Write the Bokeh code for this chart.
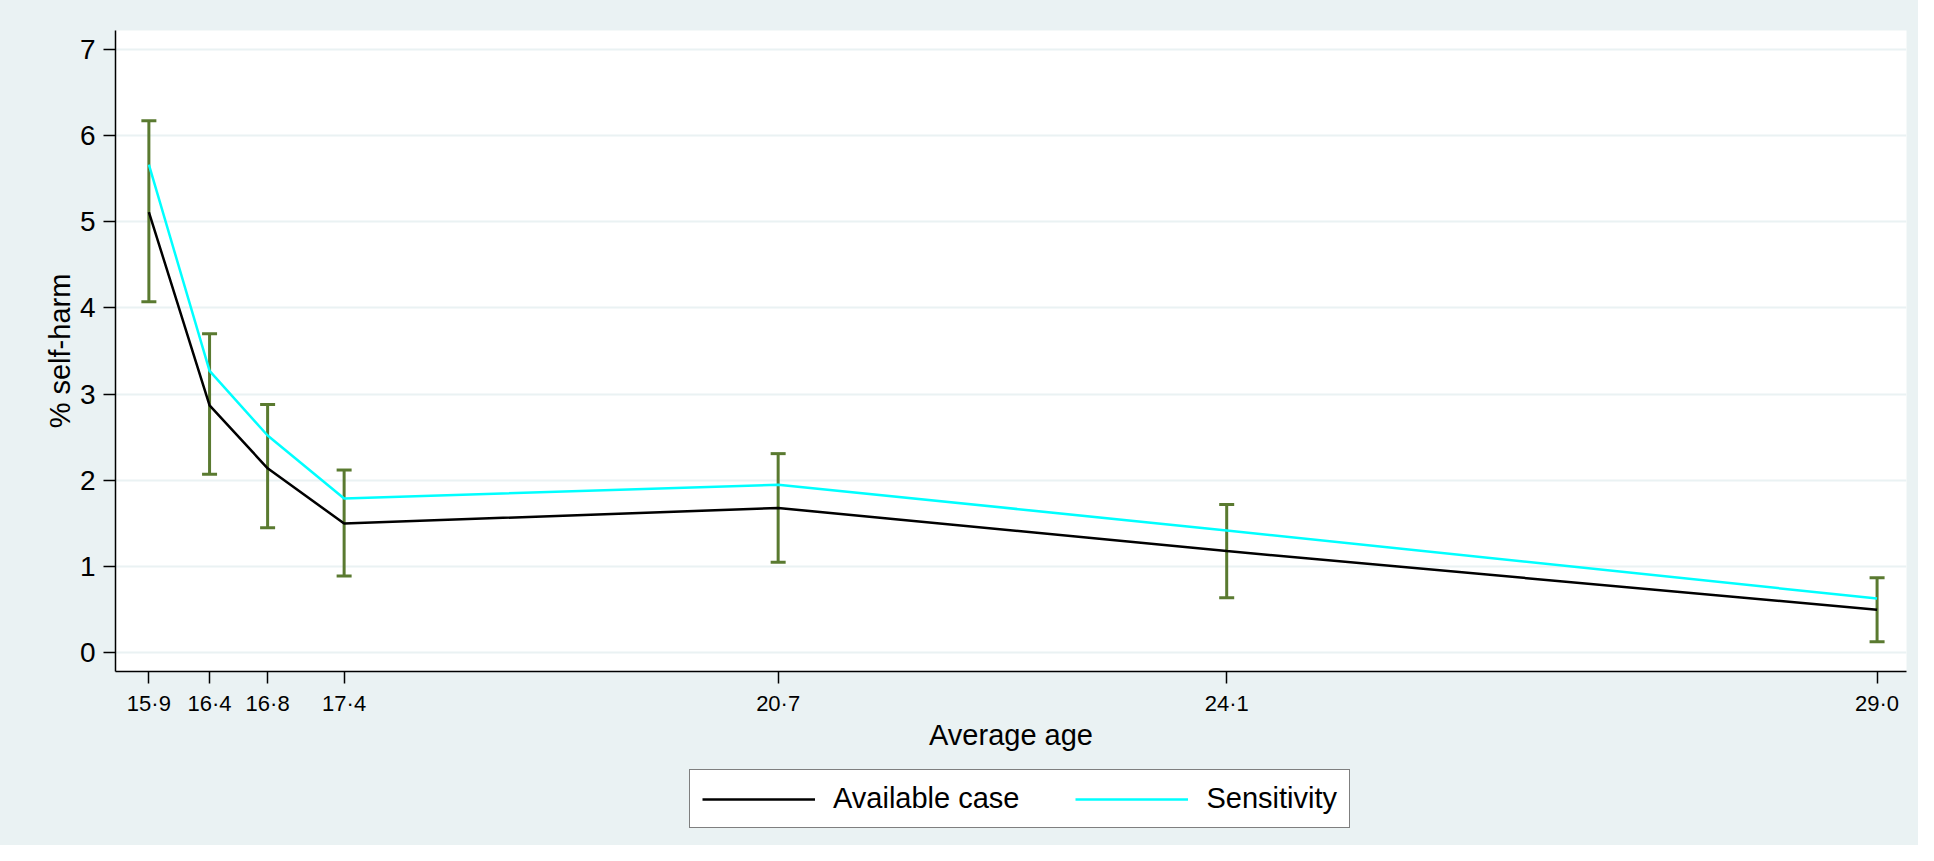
from bokeh.plotting import figure
from bokeh.layouts import column
from bokeh.models import (ColumnDataSource, Range1d, FixedTicker, Whisker, TeeHead,
                          Legend, LegendItem)
from bokeh.embed import file_html
from bokeh.resources import INLINE

# ---- data ----
age = [15.9, 16.36, 16.8, 17.38, 20.67, 24.07, 29.0]
age_labels = ["15·9", "16·4", "16·8", "17·4", "20·7", "24·1", "29·0"]
available_case = [5.11, 2.87, 2.14, 1.50, 1.68, 1.18, 0.50]
sensitivity = [5.66, 3.27, 2.52, 1.79, 1.95, 1.42, 0.63]
ci_lower = [4.07, 2.07, 1.45, 0.89, 1.05, 0.64, 0.13]
ci_upper = [6.17, 3.70, 2.88, 2.12, 2.31, 1.72, 0.87]
y_ticks = [0, 1, 2, 3, 4, 5, 6, 7]
series_names = ["Available case", "Sensitivity"]

BG = "#EAF2F3"
OLIVE = "#5A7A30"
CYAN = "#00FFFF"
FONT = "Liberation Sans"

src = ColumnDataSource(dict(x=age, ac=available_case, sens=sensitivity,
                            lo=ci_lower, hi=ci_upper))

p = figure(width=1918, height=757, output_backend="svg", toolbar_location=None,
           x_range=Range1d(15.647, 29.223), y_range=Range1d(-0.216, 7.216),
           min_border_left=115, min_border_right=12, min_border_top=30,
           min_border_bottom=86)
p.background_fill_color = "white"
p.border_fill_color = BG
p.outline_line_color = None

# grid
p.xgrid.grid_line_color = None
p.ygrid.grid_line_color = BG
p.ygrid.grid_line_width = 2
p.ygrid.ticker = FixedTicker(ticks=y_ticks)

# axes
p.yaxis.ticker = FixedTicker(ticks=y_ticks)
p.xaxis.ticker = FixedTicker(ticks=age)
p.xaxis.major_label_overrides = {a: l for a, l in zip(age, age_labels)}
for ax in (p.xaxis[0], p.yaxis[0]):
    ax.axis_line_color = "black"
    ax.axis_line_width = 1.5
    ax.major_tick_line_color = "black"
    ax.major_tick_line_width = 1.5
    ax.major_tick_out = 12
    ax.major_tick_in = 0
    ax.minor_tick_line_color = None
    ax.major_label_text_font = FONT
    ax.major_label_text_color = "black"
    ax.axis_label_text_font = FONT
    ax.axis_label_text_font_style = "normal"
    ax.axis_label_text_color = "black"
    ax.axis_label_text_font_size = "29px"

p.xaxis.major_label_text_font_size = "22px"
p.xaxis.major_label_standoff = 7
p.xaxis.axis_label = "Average age"
p.xaxis.axis_label_standoff = 0

p.yaxis.major_label_text_font_size = "28px"
p.yaxis.major_label_standoff = 8
p.yaxis.major_label_orientation = "horizontal"
p.yaxis.axis_label = "% self-harm"
p.yaxis.axis_label_standoff = 1

# lines
p.line("x", "ac", source=src, line_color="black", line_width=2.5)
p.line("x", "sens", source=src, line_color=CYAN, line_width=2.5)

# error bars
w = Whisker(source=src, base="x", lower="lo", upper="hi", dimension="height",
            line_color=OLIVE, line_width=3,
            upper_head=TeeHead(size=15, line_color=OLIVE, line_width=3),
            lower_head=TeeHead(size=15, line_color=OLIVE, line_width=3))
p.add_layout(w)

# ---- legend strip (separate figure so the box is not clipped) ----
lg = figure(width=1918, height=88, output_backend="svg", toolbar_location=None,
            x_range=Range1d(0, 1), y_range=Range1d(0, 1),
            min_border_left=115, min_border_right=12, min_border_top=0,
            min_border_bottom=0, x_axis_type=None, y_axis_type=None)
lg.background_fill_color = BG
lg.border_fill_color = BG
lg.outline_line_color = None
lg.grid.grid_line_color = None
d_ac = lg.line(x=[5, 6], y=[5, 6], line_color="black", line_width=2.5)
d_se = lg.line(x=[5, 6], y=[5, 6], line_color=CYAN, line_width=2.5)

legend = Legend(items=[LegendItem(label=series_names[0], renderers=[d_ac]),
                       LegendItem(label=series_names[1], renderers=[d_se])],
                orientation="horizontal", location=(574, 17),
                label_text_font=FONT, label_text_font_size="29px",
                label_text_color="black",
                glyph_width=113, glyph_height=30, label_standoff=18, spacing=56,
                padding=12, margin=0,
                border_line_color="black", border_line_width=1.5,
                background_fill_color="white", background_fill_alpha=1.0)
lg.add_layout(legend, "center")

layout = column(p, lg, spacing=0)
layout.styles = {"background-color": BG}
open("out.html", "w").write(file_html(layout, INLINE))
